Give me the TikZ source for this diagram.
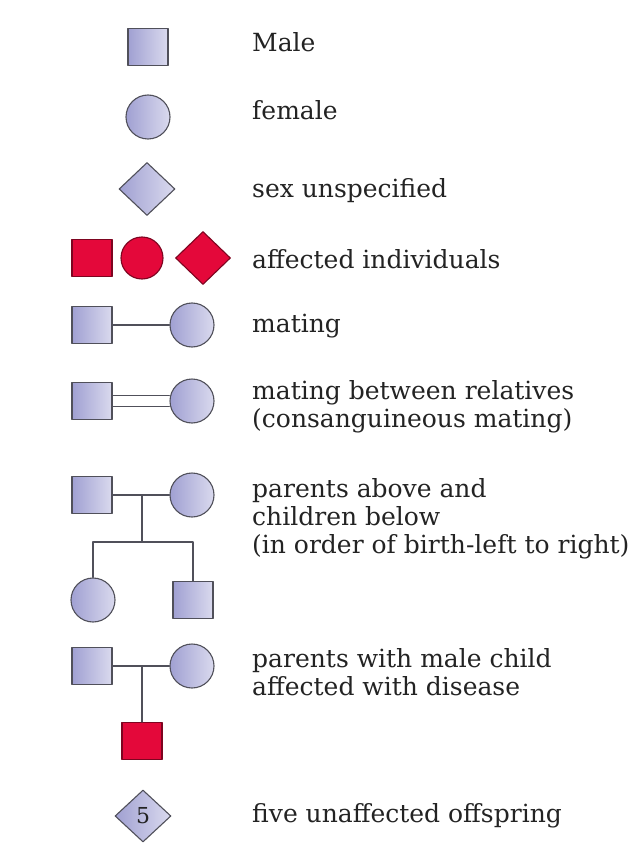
\documentclass[tikz,border=0pt]{standalone}
\usepackage{fontspec}
\setmainfont{DejaVu Serif}
\usetikzlibrary{shapes.geometric,calc}
\definecolor{lavdark}{RGB}{160,160,210}
\definecolor{lavlight}{RGB}{218,218,238}
\definecolor{affred}{RGB}{228,8,58}
\definecolor{edge}{RGB}{80,80,90}
\definecolor{txt}{RGB}{35,35,35}
\begin{document}
\begin{tikzpicture}[x=1pt, y=-1pt, line join=round, line cap=round,
		sym/.style={draw=edge, line width=1.1pt, inner sep=0pt},
		male/.style={sym, rectangle, minimum width=40pt, minimum height=37pt},
		female/.style={sym, circle, minimum size=44pt},
		unspec/.style={sym, diamond, minimum width=56pt, minimum height=53pt},
		lav/.style={left color=lavdark, right color=lavlight},
		aff/.style={fill=affred, draw=affred!55!black},
		link/.style={draw=edge, line width=1.1pt},
		lbl/.style={anchor=base west, align=left, text=txt, inner sep=0pt, font=\fontsize{25}{28}\selectfont}]
	\useasboundingbox[fill=white] (0,0) rectangle (630,845);
	% single symbols
	\node[male, lav] (m1) at (148,47) {};
	\node[female, lav] (f1) at (148,117) {};
	\node[unspec, lav] (u1) at (147,189) {};
	% affected
	\node[male, aff] (am) at (92,258) {};
	\node[female, aff, minimum size=42pt] (af) at (142,258) {};
	\node[unspec, aff, minimum width=55pt] (au) at (203,258) {};
	% mating
	\node[male, lav] (m2) at (92,325) {};
	\node[female, lav] (f2) at (192,325) {};
	\draw[link] (m2) -- (f2);
	% consanguineous mating
	\node[male, lav] (m3) at (92,401) {};
	\node[female, lav] (f3) at (192,401) {};
	\draw[link] ([yshift=5.5pt]m3.east) -- ([yshift=5.5pt]f3.west);
	\draw[link] ([yshift=-5.5pt]m3.east) -- ([yshift=-5.5pt]f3.west);
	% parents and children
	\node[male, lav] (m4) at (92,495) {};
	\node[female, lav] (f4) at (192,495) {};
	\node[female, lav] (c1) at (93,600) {};
	\node[male, lav] (c2) at (193,600) {};
	\coordinate (j4) at ($(m4)!0.5!(f4)$);
	\coordinate (s4) at ($(j4)+(0,47)$);
	\draw[link] (m4) -- (f4);
	\draw[link] (j4) -- (s4);
	\draw[link] (c1) |- (s4) -| (c2);
	% parents with affected son
	\node[male, lav] (m5) at (92,666) {};
	\node[female, lav] (f5) at (192,666) {};
	\node[male, aff] (c5) at (142,741) {};
	\coordinate (j5) at ($(m5)!0.5!(f5)$);
	\draw[link] (m5) -- (f5);
	\draw[link] (j5) -- (c5);
	% five offspring
	\node[unspec, lav, minimum width=56pt, minimum height=52pt, text=txt, font=\fontsize{22}{22}\selectfont] (u6) at (143,816) {5};
	% labels (y = baseline of last line)
	\foreach \nm/\yy/\tx in {lmale/52/Male, lfemale/120/female, lunspec/197/sex unspecified,
		laff/268/affected individuals, lmate/332/mating,
		lrel/427/{mating between relatives\\(consanguineous mating)},
		lfam/553/{parents above and\\children below\\(in order of birth-left to right)},
		lson/695/{parents with male child\\affected with disease},
		lfive/822/five unaffected offspring}
		\node[lbl] (\nm) at (252,\yy) {\tx};
\end{tikzpicture}
\end{document}
